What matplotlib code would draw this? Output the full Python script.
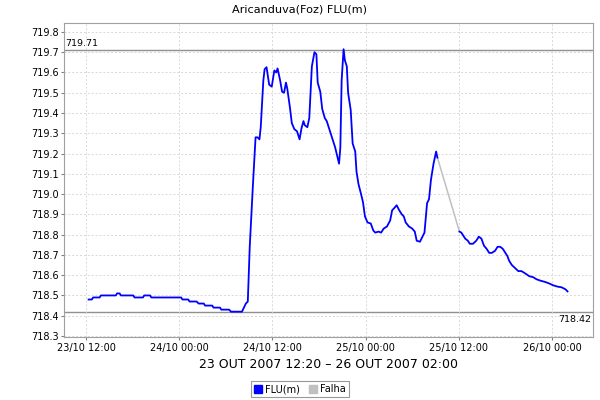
import pandas as pd
import matplotlib
matplotlib.use("Agg")
import matplotlib.pyplot as plt
import matplotlib.dates as mdates
from matplotlib.lines import Line2D

# === data ===
times = [
    "2007-10-23 12:20", "2007-10-23 12:45", "2007-10-23 12:55", "2007-10-23 13:45",
    "2007-10-23 13:55", "2007-10-23 15:50", "2007-10-23 16:00", "2007-10-23 16:20",
    "2007-10-23 16:30", "2007-10-23 18:05", "2007-10-23 18:15", "2007-10-23 19:20",
    "2007-10-23 19:30", "2007-10-23 20:15", "2007-10-23 20:25", "2007-10-24 00:15",
    "2007-10-24 00:25", "2007-10-24 01:10", "2007-10-24 01:20", "2007-10-24 02:15",
    "2007-10-24 02:30", "2007-10-24 03:10", "2007-10-24 03:20", "2007-10-24 04:15",
    "2007-10-24 04:25", "2007-10-24 05:15", "2007-10-24 05:25", "2007-10-24 06:25",
    "2007-10-24 06:40", "2007-10-24 08:05", "2007-10-24 08:35", "2007-10-24 08:50",
    "2007-10-24 09:05",
    "2007-10-24 09:30", "2007-10-24 09:50", "2007-10-24 10:05", "2007-10-24 10:20",
    "2007-10-24 10:30", "2007-10-24 10:50", "2007-10-24 11:00", "2007-10-24 11:15",
    "2007-10-24 11:35", "2007-10-24 11:55", "2007-10-24 12:15", "2007-10-24 12:30",
    "2007-10-24 12:40", "2007-10-24 13:00", "2007-10-24 13:15", "2007-10-24 13:30",
    "2007-10-24 13:45", "2007-10-24 13:55", "2007-10-24 14:15", "2007-10-24 14:30",
    "2007-10-24 14:50", "2007-10-24 15:10", "2007-10-24 15:30", "2007-10-24 15:45",
    "2007-10-24 16:00", "2007-10-24 16:10", "2007-10-24 16:30", "2007-10-24 16:45",
    "2007-10-24 17:05", "2007-10-24 17:25", "2007-10-24 17:40", "2007-10-24 17:50",
    "2007-10-24 18:10", "2007-10-24 18:25", "2007-10-24 18:45", "2007-10-24 19:00",
    "2007-10-24 19:15", "2007-10-24 19:40", "2007-10-24 20:05", "2007-10-24 20:20",
    "2007-10-24 20:35", "2007-10-24 20:45", "2007-10-24 20:55", "2007-10-24 21:10",
    "2007-10-24 21:20", "2007-10-24 21:35", "2007-10-24 21:45", "2007-10-24 22:05",
    "2007-10-24 22:20", "2007-10-24 22:40", "2007-10-24 22:50", "2007-10-24 23:05",
    "2007-10-24 23:25", "2007-10-24 23:40", "2007-10-24 23:55", "2007-10-25 00:15",
    "2007-10-25 00:40", "2007-10-25 01:00", "2007-10-25 01:15", "2007-10-25 01:40",
    "2007-10-25 02:00", "2007-10-25 02:20", "2007-10-25 02:45", "2007-10-25 03:10",
    "2007-10-25 03:25", "2007-10-25 03:40", "2007-10-25 04:00", "2007-10-25 04:20",
    "2007-10-25 04:40", "2007-10-25 04:55", "2007-10-25 05:10", "2007-10-25 05:35",
    "2007-10-25 06:00", "2007-10-25 06:20", "2007-10-25 06:35", "2007-10-25 07:00",
    "2007-10-25 07:35", "2007-10-25 07:55", "2007-10-25 08:10", "2007-10-25 08:25",
    "2007-10-25 08:45", "2007-10-25 09:05", "2007-10-25 09:15",
    "2007-10-25 12:05", "2007-10-25 12:20", "2007-10-25 12:50", "2007-10-25 13:10",
    "2007-10-25 13:25", "2007-10-25 13:50", "2007-10-25 14:15", "2007-10-25 14:35",
    "2007-10-25 14:55", "2007-10-25 15:15", "2007-10-25 15:35", "2007-10-25 15:55",
    "2007-10-25 16:15", "2007-10-25 16:40", "2007-10-25 17:00", "2007-10-25 17:20",
    "2007-10-25 17:40", "2007-10-25 17:55", "2007-10-25 18:15", "2007-10-25 18:30",
    "2007-10-25 18:50", "2007-10-25 19:15", "2007-10-25 19:40", "2007-10-25 20:05",
    "2007-10-25 20:30", "2007-10-25 21:05", "2007-10-25 21:35", "2007-10-25 22:00",
    "2007-10-25 22:30", "2007-10-25 23:05", "2007-10-25 23:35", "2007-10-26 00:10",
    "2007-10-26 00:40", "2007-10-26 01:15", "2007-10-26 01:45", "2007-10-26 02:00",
]
flu = [
    718.48, 718.48, 718.49, 718.49, 718.50, 718.50, 718.51, 718.51,
    718.50, 718.50, 718.49, 718.49, 718.50, 718.50, 718.49, 718.49,
    718.48, 718.48, 718.47, 718.47, 718.46, 718.46, 718.45, 718.45,
    718.44, 718.44, 718.43, 718.43, 718.42, 718.42, 718.46, 718.47,
    718.74,
    719.05, 719.28, 719.28, 719.27,
    719.33, 719.56, 719.616, 719.626, 719.54, 719.53, 719.61, 719.60,
    719.62, 719.56, 719.505, 719.50, 719.55, 719.52, 719.43, 719.35,
    719.32, 719.31, 719.27, 719.325, 719.36, 719.34, 719.33, 719.375,
    719.63, 719.70, 719.69, 719.55, 719.505, 719.42, 719.375, 719.36,
    719.33, 719.28, 719.23, 719.19, 719.15, 719.23, 719.56, 719.715,
    719.66, 719.63, 719.50, 719.415, 719.25, 719.21, 719.11, 719.05,
    719.00, 718.96, 718.89, 718.86, 718.855, 718.82, 718.81, 718.815,
    718.81, 718.83, 718.84, 718.87, 718.92, 718.93, 718.945, 718.92,
    718.90, 718.89, 718.86, 718.84, 718.83, 718.815, 718.77, 718.765,
    718.81, 718.955, 718.975, 719.07, 719.15, 719.21, 719.18,
    718.815, 718.81, 718.78, 718.77, 718.755, 718.755, 718.77, 718.79,
    718.78, 718.745, 718.73, 718.71, 718.71, 718.72, 718.74, 718.74,
    718.73, 718.715, 718.695, 718.67, 718.65, 718.635, 718.62, 718.62,
    718.61, 718.595, 718.59, 718.58, 718.573, 718.567, 718.56, 718.55,
    718.544, 718.54, 718.53, 718.52,
]
gap_start = "2007-10-25 09:15"   # last reading before the failure
gap_end = "2007-10-25 12:05"     # first reading after it
max_level = 719.71
min_level = 718.42
title = "Aricanduva(Foz) FLU(m)"
period = "23 OUT 2007 12:20 \u2013 26 OUT 2007 02:00"
y_ticks = [718.3 + 0.1 * i for i in range(16)]
x_ticks = ["2007-10-23 12:00", "2007-10-24 00:00", "2007-10-24 12:00",
           "2007-10-25 00:00", "2007-10-25 12:00", "2007-10-26 00:00"]

df = pd.DataFrame({"t": pd.to_datetime(times), "v": flu})
gs, ge = pd.Timestamp(gap_start), pd.Timestamp(gap_end)

fig = plt.figure(figsize=(6, 4), dpi=100)
ax = fig.add_axes([64 / 600, 63 / 400, 529 / 600, 314 / 400])

before = df[df.t <= gs]
after = df[df.t >= ge]
ax.plot(before.t, before.v, color="#0000ff", lw=1.3, zorder=3)
ax.plot(after.t, after.v, color="#0000ff", lw=1.3, zorder=3)
gap = df[(df.t == gs) | (df.t == ge)]
ax.plot(gap.t, gap.v, color="#c0c0c0", lw=1.1, zorder=2)

# reference lines for max / min
ax.axhline(max_level, color="#909090", lw=1.0, zorder=1)
ax.axhline(min_level, color="#909090", lw=1.0, zorder=1)
ax.text(0.002, max_level + 0.012, f"{max_level:.2f}", transform=ax.get_yaxis_transform(),
        fontsize=6.8, ha="left", va="bottom")
ax.text(0.997, min_level - 0.018, f"{min_level:.2f}", transform=ax.get_yaxis_transform(),
        fontsize=6.8, ha="right", va="top")

ax.set_xlim(pd.Timestamp("2007-10-23 09:10"), pd.Timestamp("2007-10-26 05:17"))
ax.set_ylim(718.295, 719.844)
ax.set_yticks(y_ticks)
ax.yaxis.set_major_formatter(matplotlib.ticker.FormatStrFormatter("%.1f"))
ax.set_xticks(pd.to_datetime(x_ticks))
ax.xaxis.set_major_formatter(mdates.DateFormatter("%d/%m %H:%M"))
ax.tick_params(labelsize=7, length=2, color="#808080", pad=2)
ax.grid(True, color="#d8d8d8", ls=(0, (2, 2)), lw=0.7)
for s in ax.spines.values():
    s.set_color("#a0a0a0")

fig.text(0.5, 1 - 10 / 400, title, ha="center", va="center", fontsize=8.1)
fig.text(328.5 / 600, 1 - 364 / 400, period, ha="center", va="center", fontsize=9)

handles = [Line2D([], [], ls="none", marker="s", ms=6, color="#0000ff"),
           Line2D([], [], ls="none", marker="s", ms=6, color="#c0c0c0")]
leg = fig.legend(handles, ["FLU(m)", "Falha"], loc="center", bbox_to_anchor=(300 / 600, 1 - 389 / 400),
                 ncol=2, fontsize=7, frameon=True, fancybox=False, handlelength=0.8,
                 handletextpad=0.3, columnspacing=1.0, borderpad=0.3)
leg.get_frame().set_edgecolor("#808080")
leg.get_frame().set_linewidth(0.8)

fig.savefig("out.png", dpi=100)
